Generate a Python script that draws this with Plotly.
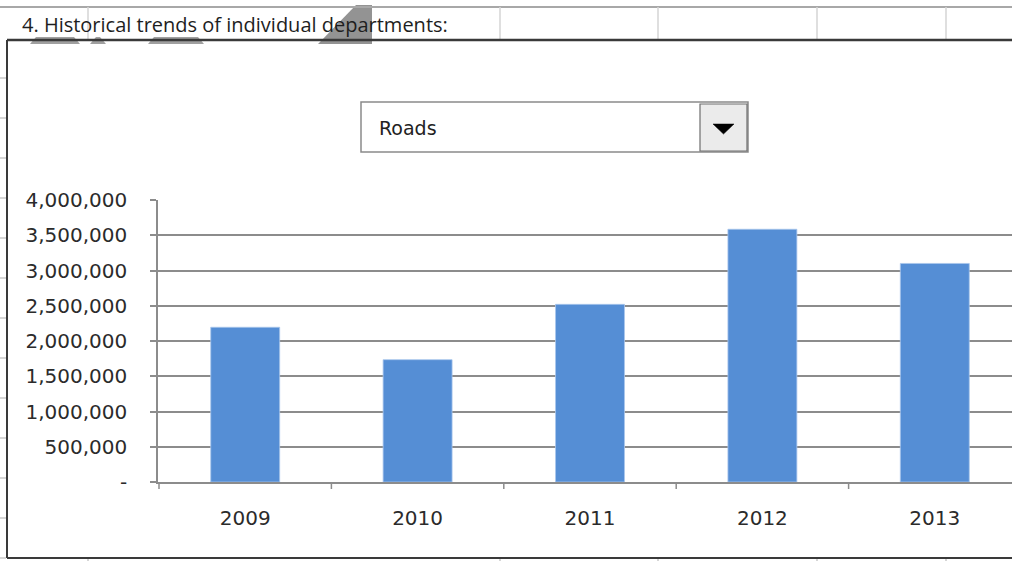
import plotly.graph_objects as go

# Department spending history
years = ["2009", "2010", "2011", "2012", "2013"]
roads = [2195000, 1735000, 2520000, 3585000, 3100000]

y_tick_vals = [0, 500000, 1000000, 1500000, 2000000, 2500000, 3000000, 3500000, 4000000]
y_tick_text = ["-", "500,000", "1,000,000", "1,500,000", "2,000,000",
               "2,500,000", "3,000,000", "3,500,000", "4,000,000"]

header_text = "4. Historical trends of individual departments:"
selected_department = "Roads"

W, H = 1012, 561
L, R, T, B = 158, 0, 200, 79
PW, PH = W - L - R, H - T - B


def px(x):
    return (x - L) / PW


def py(y):
    return (H - B - y) / PH


GRID = "#8c8c8c"
TICK_FONT = dict(family="DejaVu Sans", size=20, color="#2b2b2b")

fig = go.Figure()
fig.add_trace(go.Bar(
    x=list(range(len(years))),
    y=roads,
    width=0.4,
    marker=dict(color="#558ed5", line=dict(color="#a9c6ec", width=0.8)),
    hoverinfo="skip",
))

# width of one category slot in pixels; first slot starts one pixel right of the axis
cat_w = 172.4
x_min = -0.5 - 1.0 / cat_w
x_max = x_min + PW / cat_w

shapes = []


def line(x0, y0, x1, y1, color, width):
    shapes.append(dict(type="line", xref="paper", yref="paper",
                       x0=px(x0), y0=py(y0), x1=px(x1), y1=py(y1),
                       line=dict(color=color, width=width)))


def poly(points, color):
    d = "M " + " L ".join(f"{px(a)},{py(b)}" for a, b in points) + " Z"
    shapes.append(dict(type="path", xref="paper", yref="paper", path=d,
                       line=dict(width=0), fillcolor=color))


# faint grey glyph behind the section heading
poly([(356, 5), (372, 5), (372, 44), (318, 44)], "rgba(120,120,120,0.8)")
for a, b in [(30, 80), (90, 106), (148, 204)]:
    poly([(a + 6, 37), (b - 6, 37), (b, 44), (a, 44)], "rgba(120,120,120,0.7)")

# worksheet row/column lines around the chart object
line(0, 7, W, 7, "#a8a8a8", 2)
for cx in [88, 500, 658, 817, 946]:
    line(cx, 7, cx, 40, "#d4d4d4", 1.5)
    line(cx, 558, cx, 561, "#c8c8c8", 1.5)
for ry in range(78, 560, 40):
    line(0, ry, 6, ry, "#c8c8c8", 1.5)

# chart object frame
line(7, 40, W, 40, "#3a3a3a", 2.5)
line(7, 40, 7, 558, "#3a3a3a", 2)
line(7, 558, W, 558, "#3a3a3a", 2)

# dropdown control
shapes.append(dict(type="rect", xref="paper", yref="paper",
                   x0=px(361), y0=py(102), x1=px(748), y1=py(152),
                   line=dict(color="#8a8a8a", width=1.5), fillcolor="white"))
shapes.append(dict(type="rect", xref="paper", yref="paper",
                   x0=px(700), y0=py(104), x1=px(747), y1=py(151),
                   line=dict(color="#6e6e6e", width=1.2), fillcolor="#ebebeb"))
shapes.append(dict(type="path", xref="paper", yref="paper",
                   path=(f"M {px(713)},{py(124)} L {px(734)},{py(124)} "
                         f"L {px(723.5)},{py(134)} Z"),
                   line=dict(color="black", width=0.5), fillcolor="black"))

annotations = [
    dict(text=header_text, xref="paper", yref="paper", x=px(20), y=py(25),
         xanchor="left", yanchor="middle", showarrow=False,
         font=dict(family="'Open Sans'", size=20, color="#1e1e1e")),
    dict(text=selected_department, xref="paper", yref="paper", x=px(377),
         y=py(128), xanchor="left", yanchor="middle", showarrow=False,
         font=dict(family="DejaVu Sans", size=19, color="#222222")),
]

fig.update_layout(
    width=W, height=H,
    margin=dict(l=L, r=R, t=T, b=B, pad=0),
    paper_bgcolor="white", plot_bgcolor="white",
    showlegend=False,
    bargap=0.6,
    annotations=annotations,
    xaxis=dict(
        range=[x_min, x_max],
        tickmode="array",
        tickvals=list(range(len(years))),
        ticktext=years,
        showgrid=False,
        showline=True, linecolor=GRID, linewidth=1.5,
        ticks="", tickfont=TICK_FONT,
        ticklabelstandoff=17,
        zeroline=False,
        fixedrange=True,
    ),
    yaxis=dict(
        range=[0, 4000000],
        tickmode="array",
        tickvals=y_tick_vals,
        ticktext=y_tick_text,
        showgrid=True, gridcolor=GRID, gridwidth=1.5,
        showline=True, linecolor=GRID, linewidth=1.5,
        ticks="outside", ticklen=6, tickcolor=GRID, tickwidth=1.5,
        ticklabelstandoff=19,
        tickfont=TICK_FONT,
        zeroline=False,
        fixedrange=True,
    ),
)

# category boundary ticks under the x axis
for i in range(len(years) + 1):
    bx = L + 1 + i * cat_w
    if bx <= W:
        line(bx, H - B, bx, H - B + 7, GRID, 1.5)
fig.update_layout(shapes=shapes)

fig.write_html("out.html")
